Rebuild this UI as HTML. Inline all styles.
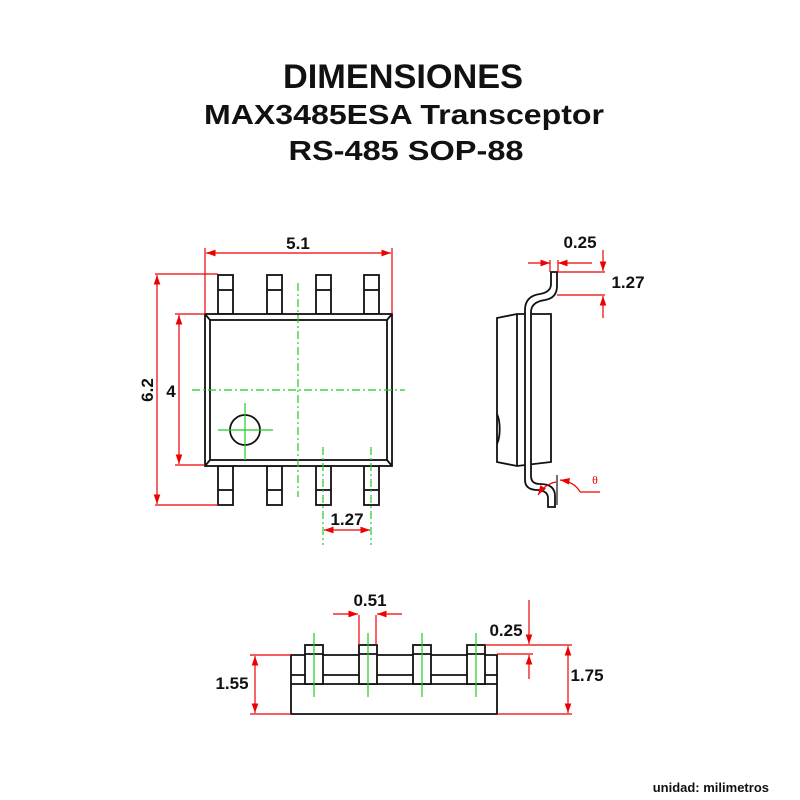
<!DOCTYPE html>
<html><head><meta charset="utf-8"><style>body{margin:0;background:#fff}svg{display:block}text{font-family:"Liberation Sans",sans-serif;font-weight:bold;fill:#111}</style></head><body>
<svg width="800" height="800" viewBox="0 0 800 800" xmlns="http://www.w3.org/2000/svg">
<defs>
<marker id="a" viewBox="0 0 10 10" refX="10" refY="5" markerWidth="8" markerHeight="8" orient="auto-start-reverse"><path d="M0,1.5L10,5L0,8.5z" fill="#e00"/></marker>
</defs>
<text x="403" y="88" font-size="34" text-anchor="middle" textLength="240" lengthAdjust="spacingAndGlyphs">DIMENSIONES</text>
<text x="404" y="124" font-size="28" text-anchor="middle" textLength="400" lengthAdjust="spacingAndGlyphs">MAX3485ESA Transceptor</text>
<text x="406" y="160" font-size="28" text-anchor="middle" textLength="235" lengthAdjust="spacingAndGlyphs">RS-485 SOP-88</text>

<g fill="none" stroke="#111" stroke-width="1.8">
<g id="tp">
<rect x="218" y="275" width="15" height="39"/><line x1="218" y1="290" x2="233" y2="290"/>
<rect x="218" y="466" width="15" height="39"/><line x1="218" y1="490" x2="233" y2="490"/>
</g>
<use href="#tp" x="49"/><use href="#tp" x="98"/><use href="#tp" x="146"/>
<rect x="205" y="314" width="187" height="152" fill="#fff"/>
<rect x="210" y="320" width="177" height="140"/>
<path d="M205,314L210,320M392,314L387,320M205,466L210,460M392,466L387,460"/>
<circle cx="245" cy="430" r="15"/>
<path d="M497,318L517,314L551,314L551,462L517,466L497,462Z"/>
<line x1="517" y1="314" x2="517" y2="466"/>
<path d="M497,414A8,20 0 0 1 497,444"/>
<path d="M551,272L551,284Q551,292 540,294Q525,296 525,310L525,480Q525,490 538,490Q548,491 548,498L548,507L555,507L555,496Q555,484 540,484Q531,484 531,476L531,312Q531,302 545,300Q557,298 557,286L557,272Z" fill="#fff"/>
<path d="M291,655L497,655L497,714L291,714Z" fill="#fff"/>
<path d="M291,675L305,675M323,675L359,675M376,675L413,675M430,675L467,675M485,675L497,675"/>
<line x1="291" y1="684" x2="497" y2="684"/>
<g id="bp"><rect x="305" y="645" width="18" height="39" fill="#fff"/><line x1="305" y1="654" x2="323" y2="654"/></g>
<use href="#bp" x="54"/><use href="#bp" x="108"/><use href="#bp" x="162"/>
</g>

<g stroke="#2c2" stroke-width="1.2" fill="none" stroke-dasharray="8,3,2,3">
<line x1="298" y1="283" x2="298" y2="497"/>
<line x1="192" y1="390" x2="405" y2="390"/>
<line x1="323" y1="447" x2="323" y2="545"/>
<line x1="371" y1="447" x2="371" y2="545"/>
</g>
<g stroke="#2c2" stroke-width="1.2">
<line x1="218" y1="430" x2="273" y2="430"/><line x1="245" y1="403" x2="245" y2="460"/>
<line x1="314" y1="633" x2="314" y2="697"/><line x1="368" y1="633" x2="368" y2="697"/>
<line x1="422" y1="633" x2="422" y2="697"/><line x1="476" y1="633" x2="476" y2="697"/>
</g>

<g stroke="#e00" stroke-width="1.2" fill="none">
<line x1="205" y1="248" x2="205" y2="314"/><line x1="392" y1="248" x2="392" y2="314"/>
<line x1="206" y1="253" x2="391" y2="253" marker-start="url(#a)" marker-end="url(#a)"/>
<line x1="155" y1="274" x2="218" y2="274"/><line x1="155" y1="505" x2="218" y2="505"/>
<line x1="157" y1="275" x2="157" y2="504" marker-start="url(#a)" marker-end="url(#a)"/>
<line x1="175" y1="314" x2="205" y2="314"/><line x1="175" y1="465" x2="205" y2="465"/>
<line x1="179" y1="315" x2="179" y2="464" marker-start="url(#a)" marker-end="url(#a)"/>
<line x1="324" y1="530" x2="370" y2="530" marker-start="url(#a)" marker-end="url(#a)"/>
<line x1="528" y1="263" x2="550" y2="263" marker-end="url(#a)"/>
<line x1="592" y1="263" x2="558" y2="263" marker-end="url(#a)"/>
<line x1="550" y1="260" x2="550" y2="272"/><line x1="558" y1="260" x2="558" y2="272"/>
<line x1="558" y1="272" x2="605" y2="272"/><line x1="557" y1="295" x2="605" y2="295"/>
<line x1="603" y1="250" x2="603" y2="271" marker-end="url(#a)"/>
<line x1="603" y1="318" x2="603" y2="296" marker-end="url(#a)"/>
<line x1="557" y1="475" x2="557" y2="505" stroke="#111"/>
<path d="M538,495Q545,484 556,482" marker-start="url(#a)"/>
<path d="M580,492Q575,482 560,480" marker-end="url(#a)"/><line x1="580" y1="492" x2="600" y2="492"/>
<line x1="359" y1="615" x2="359" y2="645"/><line x1="376" y1="615" x2="376" y2="645"/>
<line x1="333" y1="614" x2="358" y2="614" marker-end="url(#a)"/>
<line x1="402" y1="614" x2="377" y2="614" marker-end="url(#a)"/>
<line x1="250" y1="655" x2="291" y2="655"/><line x1="250" y1="714" x2="291" y2="714"/>
<line x1="255" y1="656" x2="255" y2="713" marker-start="url(#a)" marker-end="url(#a)"/>
<line x1="485" y1="645" x2="572" y2="645"/><line x1="497" y1="654" x2="533" y2="654"/><line x1="497" y1="714" x2="572" y2="714"/>
<line x1="568" y1="646" x2="568" y2="713" marker-start="url(#a)" marker-end="url(#a)"/>
<line x1="529" y1="600" x2="529" y2="644" marker-end="url(#a)"/>
<line x1="529" y1="679" x2="529" y2="655" marker-end="url(#a)"/>
</g>

<text x="298" y="249" font-size="17" text-anchor="middle">5.1</text>
<text transform="translate(153,390) rotate(-90)" font-size="17" text-anchor="middle">6.2</text>
<text x="171" y="397" font-size="17" text-anchor="middle">4</text>
<text x="347" y="525" font-size="17" text-anchor="middle">1.27</text>
<text x="580" y="248" font-size="17" text-anchor="middle">0.25</text>
<text x="628" y="288" font-size="17" text-anchor="middle">1.27</text>
<text x="595" y="484" font-size="12" text-anchor="middle" style="font-family:'Liberation Serif',serif;font-weight:normal;fill:#e00">θ</text>
<text x="370" y="606" font-size="17" text-anchor="middle">0.51</text>
<text x="506" y="636" font-size="17" text-anchor="middle">0.25</text>
<text x="232" y="689" font-size="17" text-anchor="middle">1.55</text>
<text x="587" y="681" font-size="17" text-anchor="middle">1.75</text>
<text x="769" y="792" font-size="13" text-anchor="end">unidad: milimetros</text>
</svg>
</body></html>
